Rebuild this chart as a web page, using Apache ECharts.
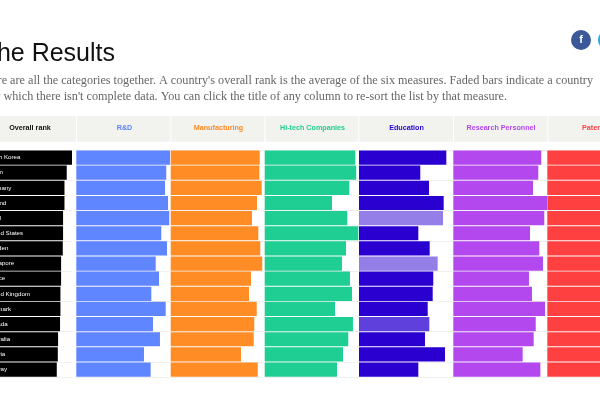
<!DOCTYPE html>
<html>
<head>
<meta charset="utf-8">
<style>
  html, body { margin: 0; padding: 0; background: #fff; overflow: hidden; }
  #chart { width: 600px; height: 400px; }
</style>
<script src="https://cdn.jsdelivr.net/npm/echarts@6/dist/echarts.min.js"></script>
</head>
<body>
<div id="chart"></div>
<script>
const countries = ['South Korea', 'Japan', 'Germany', 'Finland', 'Israel', 'United States', 'Sweden', 'Singapore', 'France', 'United Kingdom', 'Denmark', 'Canada', 'Australia', 'Austria', 'Norway'];

const overallRank = [100, 94.4, 92, 92, 90.5, 90.5, 90.2, 88.4, 88.4, 87.7, 87.7, 87.3, 85.2, 84.9, 83.8];
const rdValues = [99.7, 95.7, 94.4, 97.6, 98.9, 90.4, 96.5, 84.5, 88, 79.8, 95.1, 81.6, 89, 72, 79.1];
const manufacturing = [94.7, 94.3, 96.8, 91.8, 86.5, 93.2, 95.3, 97.4, 85.4, 83.3, 91.5, 88.9, 88.3, 74.8, 92.6];
const hiTech = [96.4, 97.4, 90, 71.6, 87.9, 99.6, 86.5, 82.2, 90.7, 92.9, 74.8, 93.9, 88.9, 83.3, 76.9];
const education = [92.9, 65.2, 74.5, 90.1, 89.4, 63.1, 75.2, 83.7, 79, 78.4, 73.1, 74.8, 70.2, 91.5, 63.1];
const researchPersonnel = [93.6, 90.4, 84.8, 99.7, 96.8, 81.6, 91.5, 95.4, 80.5, 83.7, 97.6, 87.7, 85.5, 73.8, 92.6];
// patents runs off the right edge of the picture, these are rough
const patents = [96, 98, 92, 90, 88, 94, 91, 80, 89, 78, 86, 76, 74, 85, 72];

// countries without complete data
const fadedEducation = { Israel: 0.5, Singapore: 0.5, Canada: 0.75 };

const columns = [
  { name: 'Overall rank', values: overallRank, color: '#000000', left: -22, head: 30, textColor: '#111111' },
  { name: 'R&D', values: rdValues, color: '#5f85ff', left: 76.3, head: 124.5 },
  { name: 'Manufacturing', values: manufacturing, color: '#ff8c24', left: 170.7, head: 218.5 },
  { name: 'Hi-tech Companies', values: hiTech, color: '#1fce93', left: 264.7, head: 312.5 },
  { name: 'Education', values: education, color: '#2a00d1', left: 359, head: 406.5 },
  { name: 'Research Personnel', values: researchPersonnel, color: '#b348ef', left: 453.3, head: 501 },
  { name: 'Patents', values: patents, color: '#ff4040', left: 547.3, head: 595 }
];

const chart = echarts.init(document.getElementById('chart'), null, { renderer: 'canvas' });

const TOP = 150;
const ROW = 15.14;
const COL_W = 94;

function headerCells() {
  const edges = [-20, 77, 171.3, 265.3, 359.3, 454, 548.3, 642];
  const out = [];
  columns.forEach(function (c, i) {
    out.push({
      type: 'rect',
      shape: { x: edges[i], y: 116, width: edges[i + 1] - edges[i] - 1, height: 25.7 },
      style: { fill: '#f2f2ee' }
    });
    out.push({
      type: 'text',
      x: c.head,
      y: 128,
      style: {
        text: c.name,
        fill: c.textColor || c.color,
        font: 'bold 7.2px "Liberation Sans", sans-serif',
        textAlign: 'center',
        textVerticalAlign: 'middle'
      }
    });
  });
  return out;
}

const bodyFont = '12.2px "Liberation Serif", serif';

const option = {
  animation: false,
  backgroundColor: '#ffffff',
  graphic: headerCells().concat([
    { type: 'text', x: 115, y: 54, style: { text: 'The Results', fill: '#111111', font: '25px "Liberation Sans", sans-serif', textAlign: 'right', textVerticalAlign: 'middle' } },
    { type: 'text', x: 593, y: 81, style: { text: "Here are all the categories together. A country's overall rank is the average of the six measures. Faded bars indicate a country", fill: '#666666', font: bodyFont, textAlign: 'right', textVerticalAlign: 'middle' } },
    { type: 'text', x: 507, y: 97, style: { text: "for which there isn't complete data. You can click the title of any column to re-sort the list by that measure.", fill: '#666666', font: bodyFont, textAlign: 'right', textVerticalAlign: 'middle' } },
    { type: 'circle', shape: { cx: 581, cy: 40, r: 10 }, style: { fill: '#3b5998' } },
    { type: 'text', x: 581, y: 40, style: { text: 'f', fill: '#ffffff', font: 'bold 11px "Liberation Sans", sans-serif', textAlign: 'center', textVerticalAlign: 'middle' } },
    { type: 'circle', shape: { cx: 608, cy: 40, r: 10 }, style: { fill: '#2ba9e1' } }
  ]),
  grid: columns.map(function (c) {
    return { left: c.left, top: TOP, width: COL_W, height: ROW * countries.length, outerBoundsMode: 'none' };
  }),
  xAxis: columns.map(function (c, i) {
    return { type: 'value', gridIndex: i, min: 0, max: 100, show: false };
  }),
  yAxis: columns.map(function (c, i) {
    return {
      type: 'category',
      gridIndex: i,
      data: countries,
      inverse: true,
      axisLine: { show: false },
      axisTick: { show: false },
      axisLabel: { show: false },
      splitLine: { show: true, lineStyle: { color: '#f0f0f0', width: 1 } }
    };
  }),
  series: columns.map(function (c, i) {
    return {
      type: 'bar',
      name: c.name,
      xAxisIndex: i,
      yAxisIndex: i,
      barWidth: 14.2,
      silent: true,
      itemStyle: { color: c.color },
      label: i === 0 ? {
        show: true,
        position: 'insideLeft',
        distance: 8,
        formatter: '{b}',
        color: '#ffffff',
        fontFamily: '"Liberation Sans", sans-serif',
        fontSize: 6.2
      } : { show: false },
      data: c.values.map(function (v, k) {
        const faded = c.name === 'Education' ? fadedEducation[countries[k]] : null;
        return faded ? { value: v, itemStyle: { opacity: faded } } : v;
      })
    };
  })
};

chart.setOption(option);
window.addEventListener('resize', function () { chart.resize(); });
</script>
</body>
</html>
